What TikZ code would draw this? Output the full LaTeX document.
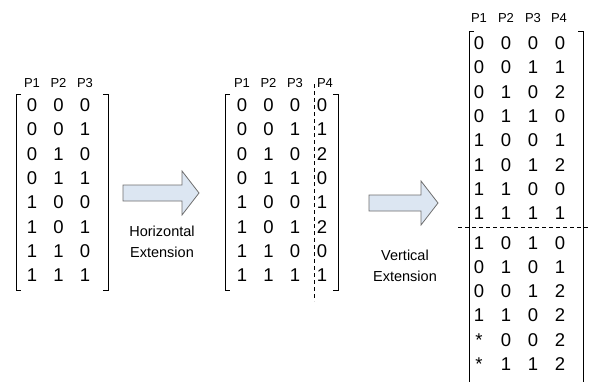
\documentclass[tikz,border=0pt]{standalone}
\usepackage{fontspec}
\setmainfont{Liberation Sans}
\definecolor{arrowfill}{HTML}{DCE6F2}
\definecolor{arrowline}{HTML}{6E6E6E}
\begin{document}
\begin{tikzpicture}[x=1pt,y=-1pt,
  dig/.style={font=\fontsize{18.5}{18.5}\selectfont, inner sep=0pt, anchor=base},
  hdr/.style={font=\fontsize{13}{13}\selectfont, inner sep=0pt, anchor=base},
  lbl/.style={font=\fontsize{14.5}{14.5}\selectfont, inner sep=0pt, anchor=base},
  brk/.style={line width=1pt, black},
  sepline/.style={line width=0.8pt, dash pattern=on 4pt off 3pt},
  bigarrow/.style={draw=arrowline, fill=arrowfill, line width=0.8pt, line join=miter}]
\useasboundingbox (0,0) rectangle (590,381);

% ---------- left matrix ----------
\foreach \h/\x in {1/32,2/58.5,3/85}
  \node[hdr] (lh\h) at (\x,87.5) {P\h};
\foreach \a/\b/\c [count=\i from 0] in {0/0/0,0/0/1,0/1/0,0/1/1,1/0/0,1/0/1,1/1/0,1/1/1}{
  \node[dig] (l\i a) at (32,111.5+24.3*\i) {\a};
  \node[dig] (l\i b) at (58.5,111.5+24.3*\i) {\b};
  \node[dig] (l\i c) at (85,111.5+24.3*\i) {\c};
}
\draw[brk] (21,94) -- (16,94) -- (16,290) -- (21,290);
\draw[brk] (103,94) -- (108,94) -- (108,290) -- (103,290);

% ---------- horizontal arrow ----------
\draw[bigarrow] (123,185) -- (182,185) -- (182,171) -- (199,193) -- (182,215) -- (182,201) -- (123,201) -- cycle;
\node[lbl] (hz1) at (162,236) {Horizontal};
\node[lbl] (hz2) at (162,257) {Extension};

% ---------- middle matrix ----------
\foreach \h/\x in {1/242,2/268.5,3/295,4/325}
  \node[hdr] (mh\h) at (\x,87.5) {P\h};
\foreach \a/\b/\c/\d [count=\i from 0] in {0/0/0/0,0/0/1/1,0/1/0/2,0/1/1/0,1/0/0/1,1/0/1/2,1/1/0/0,1/1/1/1}{
  \node[dig] (m\i a) at (242,111.5+24.3*\i) {\a};
  \node[dig] (m\i b) at (268.5,111.5+24.3*\i) {\b};
  \node[dig] (m\i c) at (295,111.5+24.3*\i) {\c};
  \node[dig] (m\i d) at (322,111.5+24.3*\i) {\d};
}
\draw[brk] (230,94) -- (225,94) -- (225,290) -- (230,290);
\draw[brk] (333,94) -- (338,94) -- (338,290) -- (333,290);
\coordinate (mvtop) at (314,84);
\coordinate (mvbot) at (314,301);
\draw[sepline] (mvtop) -- (mvbot);

% ---------- vertical arrow ----------
\draw[bigarrow] (369,195) -- (421,195) -- (421,181) -- (438,203) -- (421,225) -- (421,211) -- (369,211) -- cycle;
\node[lbl] (vt1) at (405,260) {Vertical};
\node[lbl] (vt2) at (405,281) {Extension};

% ---------- right matrix ----------
\foreach \h/\x in {1/479,2/506,3/533,4/559}
  \node[hdr] (rh\h) at (\x,22.5) {P\h};
\foreach \a/\b/\c/\d [count=\i from 0] in {0/0/0/0,0/0/1/1,0/1/0/2,0/1/1/0,1/0/0/1,1/0/1/2,1/1/0/0,1/1/1/1}{
  \node[dig] (r\i a) at (479,49.5+24.3*\i) {\a};
  \node[dig] (r\i b) at (506,49.5+24.3*\i) {\b};
  \node[dig] (r\i c) at (533,49.5+24.3*\i) {\c};
  \node[dig] (r\i d) at (560,49.5+24.3*\i) {\d};
}
\foreach \a/\b/\c/\d [count=\i from 0] in {1/0/1/0,0/1/0/1,0/0/1/2,1/1/0/2,*/0/0/2,*/1/1/2}{
  \node[dig] (s\i a) at (479,249+24.3*\i) {\a};
  \node[dig] (s\i b) at (506,249+24.3*\i) {\b};
  \node[dig] (s\i c) at (533,249+24.3*\i) {\c};
  \node[dig] (s\i d) at (560,249+24.3*\i) {\d};
}
\draw[brk] (474,31) -- (469,31) -- (469,385);
\draw[brk] (578,31) -- (583,31) -- (583,385);
\coordinate (rhl) at (458,227);
\coordinate (rhr) at (590,227);
\draw[sepline] (rhl) -- (rhr);
\end{tikzpicture}
\end{document}
